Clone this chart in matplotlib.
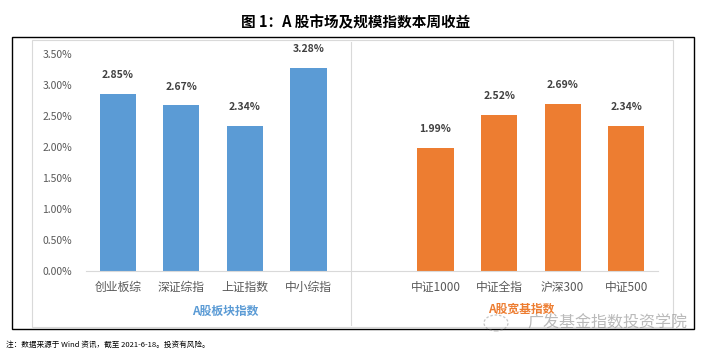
import matplotlib
matplotlib.use("Agg")
import matplotlib.pyplot as plt
from matplotlib.patches import Rectangle, Ellipse
from matplotlib.lines import Line2D
import matplotlib.ticker as mticker

plt.rcParams['font.family'] = ['Noto Sans CJK SC', 'DejaVu Sans']

title = "图 1：A 股市场及规模指数本周收益"
group1_name = "A股板块指数"
group2_name = "A股宽基指数"
group1_cats = ["创业板综", "深证综指", "上证指数", "中小综指"]
group1_vals = [2.85, 2.67, 2.34, 3.28]
group2_cats = ["中证1000", "中证全指", "沪深300", "中证500"]
group2_vals = [1.99, 2.52, 2.69, 2.34]
yticks = [0, 0.5, 1.0, 1.5, 2.0, 2.5, 3.0, 3.5]
note = "注：数据来源于 Wind 资讯，截至 2021-6-18。投资有风险。"
watermark = "广发基金指数投资学院"

W, H = 710, 356
fig = plt.figure(figsize=(W / 100, H / 100), dpi=100)

def fx(x):
    return x / W

def fy(y):
    return 1 - y / H

# outer black frame
fig.patches.append(Rectangle((fx(12), fy(329)), fx(694 - 12), (329 - 37) / H,
                             transform=fig.transFigure, fill=False,
                             edgecolor='black', linewidth=1.0))
# inner chart area
fig.patches.append(Rectangle((fx(32), fy(327)), fx(673 - 32), (327 - 40) / H,
                             transform=fig.transFigure, fill=False,
                             edgecolor='#D9D9D9', linewidth=0.8))
# separator between groups
fig.lines.append(Line2D([fx(351), fx(351)], [fy(42), fy(325)],
                        transform=fig.transFigure, color='#D9D9D9', linewidth=0.8))

ax = fig.add_axes([fx(86), fy(271), fx(658 - 86), (271 - 54) / H])

blue = '#5B9BD5'
orange = '#ED7D31'
pos1 = list(range(len(group1_cats)))
pos2 = [len(group1_cats) + 1 + i for i in range(len(group2_cats))]

ax.bar(pos1, group1_vals, width=0.57, color=blue)
ax.bar(pos2, group2_vals, width=0.57, color=orange)

for p, v in list(zip(pos1, group1_vals)) + list(zip(pos2, group2_vals)):
    ax.annotate(f"{v:.2f}%", (p, v), xytext=(0, 10), textcoords='offset points',
                ha='center', va='bottom', fontsize=7.5, fontweight='bold',
                color='#404040')

ax.set_xlim(-0.5, len(group1_cats) + len(group2_cats) + 0.5)
ax.set_ylim(0, 3.5)
ax.set_yticks(yticks)
ax.yaxis.set_major_formatter(mticker.FuncFormatter(lambda v, _: f"{v:.2f}%"))
ax.set_xticks(pos1 + pos2)
ax.set_xticklabels(group1_cats + group2_cats)
ax.tick_params(axis='y', length=0, labelsize=7.5, labelcolor='#595959', pad=10)
ax.tick_params(axis='x', length=0, labelsize=8.5, labelcolor='#595959', pad=7)
for s in ['top', 'right', 'left']:
    ax.spines[s].set_visible(False)
ax.spines['bottom'].set_color('#D9D9D9')
ax.spines['bottom'].set_linewidth(0.8)
ax.patch.set_alpha(0)

fig.text(fx(225), fy(311), group1_name, ha='center', va='center',
         fontsize=8.5, fontweight='bold', color=blue)
fig.text(fx(521), fy(309), group2_name, ha='center', va='center',
         fontsize=8.5, fontweight='bold', color=orange)

fig.text(fx(356), fy(22), title, ha='center', va='center',
         fontsize=10.5, fontweight='bold', color='black')

fig.text(fx(6), fy(345), note, ha='left', va='center', fontsize=5.5, color='black')

fig.text(fx(687), fy(323), watermark, ha='right', va='center', fontsize=11.5,
         color='#8c8c8c', alpha=0.6)
# small chat-bubble icon of the watermark
fig.patches.append(Ellipse((fx(496), fy(323)), fx(24), 16 / H,
                           transform=fig.transFigure, fill=False,
                           edgecolor='#8c8c8c', alpha=0.5, linewidth=0.9,
                           linestyle=(0, (2, 1.5))))

fig.savefig("out.png", dpi=100)
